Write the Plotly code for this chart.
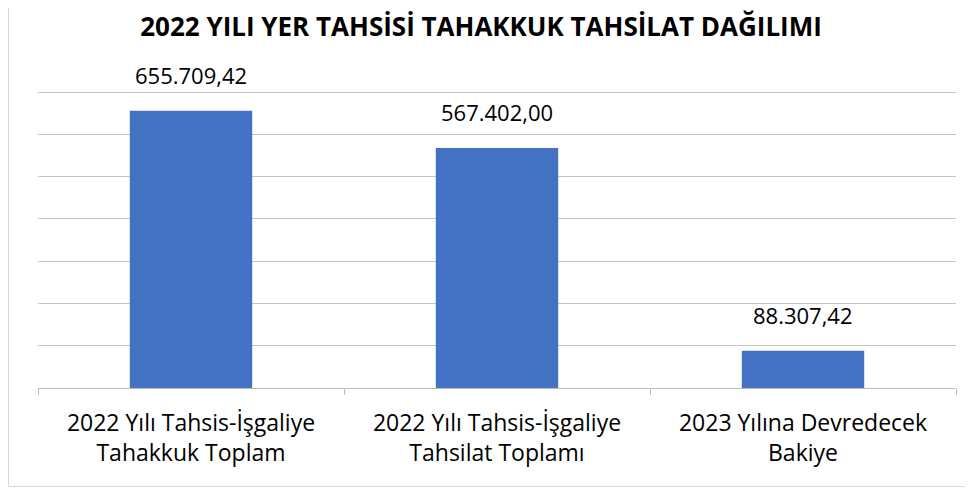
import plotly.graph_objects as go

categories = ["2022 Yılı Tahsis-İşgaliye<br>Tahakkuk Toplam",
              "2022 Yılı Tahsis-İşgaliye<br>Tahsilat Toplamı",
              "2023 Yılına Devredecek<br>Bakiye"]
values = [655709.42, 567402.00, 88307.42]
value_labels = ["655.709,42", "567.402,00", "88.307,42"]
grid_values = [100000, 200000, 300000, 400000, 500000, 600000, 700000]
title_text = "2022 YILI YER TAHSİSİ TAHAKKUK TAHSİLAT DAĞILIMI"

# page body has an 8px margin, so the figure starts at (8, 8)
W, H = 965, 479
ml, mr, mt, mb = 30, 17, 80, 99
pw, ph = W - ml - mr, H - mt - mb
ymax = 700000 * ph / 296.0  # so the 700k gridline sits 4px below the plot top

fig = go.Figure()
fig.add_trace(go.Bar(x=categories, y=values, marker=dict(color="#4472C4", line=dict(width=0)),
                     width=0.4, hoverinfo="skip"))

for c, v, t in zip(categories, values, value_labels):
    fig.add_annotation(x=c, y=v, text=t, showarrow=False, yanchor="bottom", yshift=19,
                       font=dict(family="Open Sans", size=22, color="#000000"))

# outer chart frame (left & bottom edges)
fx0 = (0.5 - ml) / pw
fy0 = (H - mb - (H - 0.5)) / ph
fig.add_shape(type="line", xref="paper", yref="paper", x0=fx0, x1=fx0, y0=fy0, y1=(H - mb) / ph,
              line=dict(color="#d9d9d9", width=1))
fig.add_shape(type="line", xref="paper", yref="paper", x0=fx0, x1=(W - ml) / pw, y0=fy0, y1=fy0,
              line=dict(color="#d9d9d9", width=1))

fig.update_layout(
    width=W, height=H,
    margin=dict(l=ml, r=mr, t=mt, b=mb, autoexpand=False),
    paper_bgcolor="white", plot_bgcolor="white",
    showlegend=False,
    title=dict(text="<b>" + title_text + "</b>", x=(481 - 8) / W, xanchor="center",
               y=1 - 19 / H, yanchor="middle",
               font=dict(family="Open Sans", size=26, color="#000000")),
    xaxis=dict(showline=True, linecolor="#bcbcbc", linewidth=1, ticks="outside", tickson="boundaries",
               ticklen=6, tickcolor="#bcbcbc", showgrid=False, ticklabelstandoff=14,
               tickfont=dict(family="Open Sans", size=23, color="#000000")),
    yaxis=dict(range=[0, ymax], tickvals=grid_values,
               showticklabels=False, showgrid=True,
               gridcolor="#c4c4c4", gridwidth=1, zeroline=False, showline=False, ticks=""),
    bargap=0.6,
)

fig.write_html("out.html")
